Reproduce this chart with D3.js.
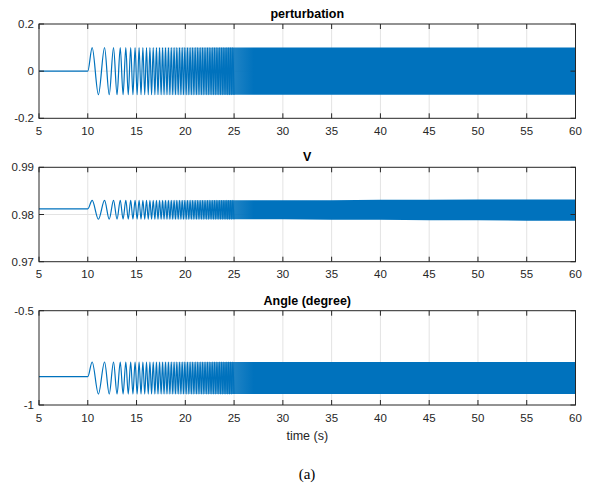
<!DOCTYPE html>
<html><head><meta charset="utf-8">
<script src="https://cdn.jsdelivr.net/npm/d3@7"></script>
<style>body{margin:0;background:#fff}svg{display:block}</style>
</head><body>
<script>
// ---- data ----
const xTicks = [5,10,15,20,25,30,35,40,45,50,55,60];
const startTime = 10;               // perturbation switched on
const peakTimes = [10.45,11.72,12.64,13.33,13.90,14.40,14.85,15.26,15.65,16.02,16.37,16.71,17.04,17.36,17.67,17.97,18.27,18.56,18.85,19.13,19.41,19.68,19.95,20.22,20.49,20.75,21.01,21.27,21.52,21.77,22.02,22.27,22.52,22.76,23.00,23.24,23.48,23.72,23.95,24.18,24.41,24.64,24.87];
const troughTimes = [11.09,12.20,13.00,13.62,14.15,14.63,15.06,15.46,15.84,16.20,16.54,16.88,17.20,17.52,17.82,18.12,18.42,18.71,18.99,19.27,19.55,19.82,20.09,20.36,20.62,20.88,21.14,21.40,21.65,21.90,22.15,22.40,22.64,22.88,23.12,23.36,23.60,23.84,24.07,24.30,24.53,24.76,24.99];
const bandTimes = [16,20,25,30,35,40,45,50,55,60];

const pertTitle = "perturbation", pertTicks = [-0.2,0,0.2], pertLabels = ["-0.2","0","0.2"];
const pertBase = 0, pertPeak = 0.1, pertTrough = -0.1;
const pertUpper = [0.1,0.1,0.1,0.1,0.1,0.1,0.1,0.1,0.1,0.1];
const pertLower = [-0.1,-0.1,-0.1,-0.1,-0.1,-0.1,-0.1,-0.1,-0.1,-0.1];

const vTitle = "V", vTicks = [0.97,0.98,0.99], vLabels = ["0.97","0.98","0.99"];
const vBase = 0.9812, vPeak = 0.9830, vTrough = 0.9790;
const vUpper = [0.9830,0.9830,0.9830,0.9830,0.9830,0.9831,0.9831,0.9832,0.9832,0.9832];
const vLower = [0.9790,0.9790,0.9790,0.9790,0.9789,0.9789,0.9788,0.9788,0.9787,0.9787];

const angTitle = "Angle (degree)", angTicks = [-1,-0.5], angLabels = ["-1","-0.5"];
const angBase = -0.85, angPeak = -0.772, angTrough = -0.942;
const angUpper = [-0.772,-0.772,-0.772,-0.772,-0.772,-0.772,-0.772,-0.772,-0.772,-0.772];
const angLower = [-0.942,-0.942,-0.942,-0.942,-0.942,-0.942,-0.942,-0.942,-0.942,-0.942];

// ---- drawing ----
const W = 601, H = 487;
const svg = d3.select("body").append("svg").attr("width", W).attr("height", H);
const blue = "#0072BD", ink = "#262626", gridC = "#e3e3e3";
const font = "'Liberation Sans', Arial, Helvetica, sans-serif";
const x = d3.scaleLinear().domain([5,60]).range([39,575.5]);

// density gradient for the band (visual style only)
const defs = svg.append("defs");
const grad = defs.append("linearGradient").attr("id", "dens")
  .attr("gradientUnits", "userSpaceOnUse")
  .attr("x1", x(16)).attr("x2", x(27)).attr("y1", 0).attr("y2", 0);
[[0,0],[0.36,0.3],[0.64,0.6],[0.82,0.88],[1,1]].forEach(([o,a]) =>
  grad.append("stop").attr("offset", o).attr("stop-color", blue).attr("stop-opacity", a));

const panels = [
  {title: pertTitle, ticks: pertTicks, labels: pertLabels, dom: [-0.2,0.2], top: 24, bot: 118.3,
   base: pertBase, pk: pertPeak, tr: pertTrough, up: pertUpper, lo: pertLower, titleY: 18, tickY: 135},
  {title: vTitle, ticks: vTicks, labels: vLabels, dom: [0.97,0.99], top: 167.3, bot: 261.7,
   base: vBase, pk: vPeak, tr: vTrough, up: vUpper, lo: vLower, titleY: 161, tickY: 278},
  {title: angTitle, ticks: angTicks, labels: angLabels, dom: [-1,-0.5], top: 310.7, bot: 405,
   base: angBase, pk: angPeak, tr: angTrough, up: angUpper, lo: angLower, titleY: 305, tickY: 422}
];

panels.forEach(p => {
  const y = d3.scaleLinear().domain(p.dom).range([p.bot, p.top]);
  const g = svg.append("g");
  // grid
  g.selectAll(".gx").data(xTicks.slice(1,-1)).join("line")
    .attr("x1", d => x(d)).attr("x2", d => x(d)).attr("y1", p.top).attr("y2", p.bot)
    .attr("stroke", gridC).attr("stroke-width", 1);
  g.selectAll(".gy").data(p.ticks.filter(t => t > p.dom[0] && t < p.dom[1])).join("line")
    .attr("x1", x.range()[0]).attr("x2", x.range()[1]).attr("y1", d => y(d)).attr("y2", d => y(d))
    .attr("stroke", gridC).attr("stroke-width", 1);

  // dense band
  const band = bandTimes.map((t,i) => ({t, u: p.up[i], l: p.lo[i]}));
  g.append("path").datum(band)
    .attr("d", d3.area().x(d => x(d.t)).y0(d => y(d.l)).y1(d => y(d.u)))
    .attr("fill", "url(#dens)");
  // signal: baseline then oscillation through extrema
  const pts = [{t: 5, v: p.base}, {t: startTime, v: p.base}]
    .concat(peakTimes.map(t => ({t, v: p.pk})))
    .concat(troughTimes.map(t => ({t, v: p.tr})))
    .sort((a,b) => a.t - b.t);
  const line = d3.line().x(d => x(d.t)).y(d => y(d.v)).curve(d3.curveMonotoneX);
  g.append("path").datum(pts).attr("d", line)
    .attr("fill", "none").attr("stroke", blue).attr("stroke-width", 1.2);

  // box
  g.append("rect").attr("x", x.range()[0]).attr("y", p.top)
    .attr("width", x.range()[1] - x.range()[0]).attr("height", p.bot - p.top)
    .attr("fill", "none").attr("stroke", ink).attr("stroke-width", 1);
  // inward ticks
  const tl = 5;
  xTicks.forEach(t => {
    g.append("line").attr("x1", x(t)).attr("x2", x(t)).attr("y1", p.bot).attr("y2", p.bot - tl).attr("stroke", ink);
    g.append("line").attr("x1", x(t)).attr("x2", x(t)).attr("y1", p.top).attr("y2", p.top + tl).attr("stroke", ink);
  });
  p.ticks.forEach(t => {
    g.append("line").attr("x1", x.range()[0]).attr("x2", x.range()[0] + tl).attr("y1", y(t)).attr("y2", y(t)).attr("stroke", ink);
    g.append("line").attr("x1", x.range()[1]).attr("x2", x.range()[1] - tl).attr("y1", y(t)).attr("y2", y(t)).attr("stroke", ink);
  });
  // tick labels
  g.selectAll(".xl").data(xTicks).join("text")
    .attr("x", d => x(d)).attr("y", p.tickY).attr("text-anchor", "middle")
    .attr("font-family", font).attr("font-size", 11.5).attr("fill", ink).text(d => d);
  g.selectAll(".yl").data(p.ticks).join("text")
    .attr("x", 34).attr("y", d => y(d) + 4).attr("text-anchor", "end")
    .attr("font-family", font).attr("font-size", 11.5).attr("fill", ink)
    .text((d,i) => p.labels[i]);
  // title
  g.append("text").attr("x", (x.range()[0] + x.range()[1]) / 2).attr("y", p.titleY)
    .attr("text-anchor", "middle").attr("font-family", font).attr("font-size", 12.5)
    .attr("font-weight", "bold").attr("fill", "#000").text(p.title);
});

svg.append("text").attr("x", (x.range()[0] + x.range()[1]) / 2).attr("y", 440)
  .attr("text-anchor", "middle").attr("font-family", font).attr("font-size", 12.5)
  .attr("fill", ink).text("time (s)");
svg.append("text").attr("x", 307).attr("y", 479)
  .attr("text-anchor", "middle").attr("font-family", "'Liberation Serif', 'Times New Roman', serif")
  .attr("font-size", 15).attr("fill", "#000").text("(a)");
</script>
</body></html>
